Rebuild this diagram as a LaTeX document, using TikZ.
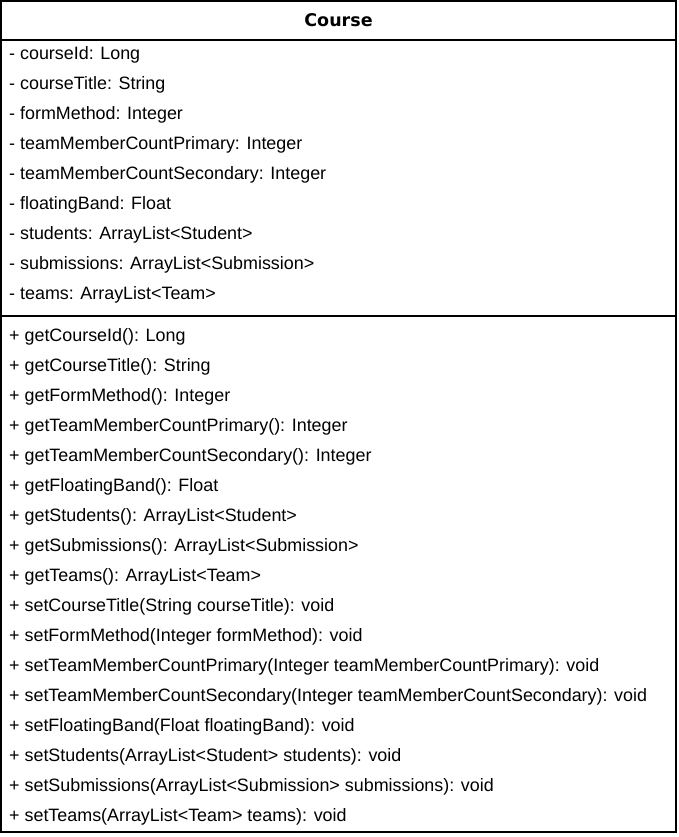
\documentclass[tikz,border=0pt]{standalone}
\usepackage{fontspec}
\setmainfont{Liberation Sans}
\newfontfamily\titlefont{DejaVu Sans}
\begin{document}
\begin{tikzpicture}[x=1pt,y=-1pt,
  boxline/.style={draw=black,line width=1.3pt},
  member/.style={anchor=west,inner sep=0pt,font=\fontsize{17.9}{21}\selectfont},
  title/.style={inner sep=0pt,font=\fontsize{17.5}{21}\selectfont\titlefont\bfseries}]
\useasboundingbox (0,0) rectangle (678,837);
\draw[boxline] (1,1) rectangle (676,832);
\draw[boxline] (1,40) -- (676,40);
\draw[boxline] (1,316) -- (676,316);
\node[title] (t) at (338.5,20.5) {Course};
\foreach \i/\txt in {0/{- courseId: Long},1/{- courseTitle: String},2/{- formMethod: Integer},3/{- teamMemberCountPrimary: Integer},4/{- teamMemberCountSecondary: Integer},5/{- floatingBand: Float},6/{- students: ArrayList<Student>},7/{- submissions: ArrayList<Submission>},8/{- teams: ArrayList<Team>}}
  \node[member] (a\i) at (9,55+30*\i) {\txt};
\foreach \i/\txt in {0/{+ getCourseId(): Long},1/{+ getCourseTitle(): String},2/{+ getFormMethod(): Integer},3/{+ getTeamMemberCountPrimary(): Integer},4/{+ getTeamMemberCountSecondary(): Integer},5/{+ getFloatingBand(): Float},6/{+ getStudents(): ArrayList<Student>},7/{+ getSubmissions(): ArrayList<Submission>},8/{+ getTeams(): ArrayList<Team>},9/{+ setCourseTitle(String courseTitle): void},10/{+ setFormMethod(Integer formMethod): void},11/{+ setTeamMemberCountPrimary(Integer teamMemberCountPrimary): void},12/{+ setTeamMemberCountSecondary(Integer teamMemberCountSecondary): void},13/{+ setFloatingBand(Float floatingBand): void},14/{+ setStudents(ArrayList<Student> students): void},15/{+ setSubmissions(ArrayList<Submission> submissions): void},16/{+ setTeams(ArrayList<Team> teams): void}}
  \node[member] (m\i) at (9,337+30*\i) {\txt};
\end{tikzpicture}
\end{document}
